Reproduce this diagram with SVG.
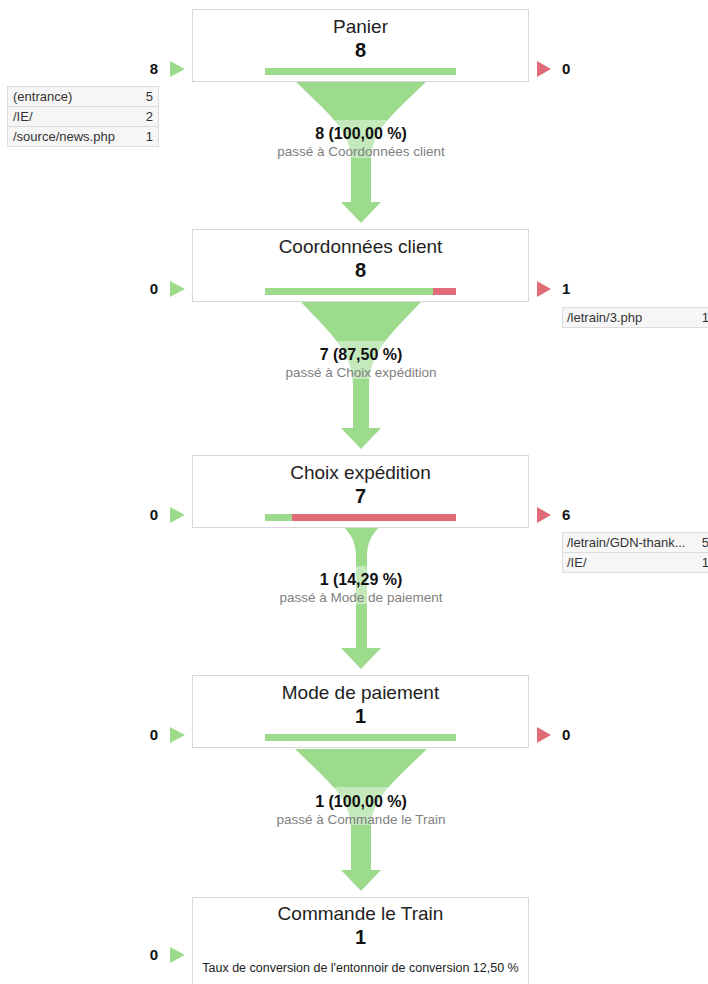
<svg xmlns="http://www.w3.org/2000/svg" width="708" height="984" viewBox="0 0 708 984">
<style>
  text { font-family: "Liberation Sans", Arial, sans-serif; }
  .box { fill: #ffffff; stroke: #d8d8d8; stroke-width: 1; }
  .title { font-size: 19px; fill: #222222; text-anchor: middle; }
  .num { font-size: 20px; font-weight: bold; fill: #111111; text-anchor: middle; }
  .bar-g { fill: #9ddb8c; }
  .bar-r { fill: #e06c7a; }
  .tri-g { fill: #9ddb8c; }
  .tri-r { fill: #e06c7a; }
  .cnt { font-size: 15px; font-weight: bold; fill: #111111; }
  .cnt-l { text-anchor: end; }
  .tbl { fill: #f6f6f6; stroke: #dcdcdc; stroke-width: 1; }
  .tline { stroke: #dcdcdc; stroke-width: 1; }
  .tt { font-size: 13px; fill: #333333; }
  .tn { font-size: 13px; fill: #333333; text-anchor: end; }
  .funnel { fill: #9ddb8c; }
  .lblbg { fill: #ffffff; fill-opacity: 0.4; }
  .lbl { font-size: 16px; font-weight: bold; fill: #111111; text-anchor: middle; }
  .sub { font-size: 13.5px; fill: #808080; text-anchor: middle; }
  .conv { font-size: 12.5px; fill: #222222; text-anchor: middle; }
</style>

<g id="connectors">
  <g id="funnel-1">
    <path class="funnel" d="M295,81 L427,81 C391,116 371,131 371,161 L371,202 L381,202 L361,223 L341,202 L351,202 L351,161 C351,131 331,116 295,81 Z"/>
    <rect class="lblbg" x="275" y="120" width="172" height="38"/>
    <text class="lbl" x="361" y="139">8 (100,00 %)</text>
    <text class="sub" x="361" y="156">passé à Coordonnées client</text>
  </g>
  <g id="funnel-2">
    <path class="funnel" d="M301,302 L421,302 C390,335 369,352 369,387 L369,428 L381,428 L361,449 L341,428 L353,428 L353,387 C353,352 332,335 301,302 Z"/>
    <rect class="lblbg" x="284" y="341" width="154" height="38"/>
    <text class="lbl" x="361" y="360">7 (87,50 %)</text>
    <text class="sub" x="361" y="377">passé à Choix expédition</text>
  </g>
  <g id="funnel-3">
    <path class="funnel" d="M344,527 L379,527 C372,535 367,542 367,557 L367,648 L381,648 L361,669 L341,648 L356,648 L356,557 C356,542 351,535 344,527 Z"/>
    <rect class="lblbg" x="280" y="566" width="162" height="38"/>
    <text class="lbl" x="361" y="585">1 (14,29 %)</text>
    <text class="sub" x="361" y="602">passé à Mode de paiement</text>
  </g>
  <g id="funnel-4">
    <path class="funnel" d="M295,749 L427,749 C391,784 371,799 371,829 L371,870 L381,870 L361,891 L341,870 L351,870 L351,829 C351,799 331,784 295,749 Z"/>
    <rect class="lblbg" x="277" y="787" width="168" height="38"/>
    <text class="lbl" x="361" y="807">1 (100,00 %)</text>
    <text class="sub" x="361" y="824">passé à Commande le Train</text>
  </g>
</g>

<g id="node-panier">
  <rect class="box" x="192.5" y="9.5" width="336" height="72"/>
  <text class="title" x="360.5" y="33">Panier</text>
  <text class="num" x="360.5" y="57">8</text>
  <rect class="bar-g" x="265" y="68" width="191" height="7"/>
  <polygon class="tri-g" points="170,61 185,69 170,77"/>
  <text class="cnt cnt-l" x="158" y="74">8</text>
  <polygon class="tri-r" points="537,61 551,69 537,77"/>
  <text class="cnt" x="562" y="74">0</text>
  <rect class="tbl" x="7.5" y="86.5" width="151" height="60"/>
  <line class="tline" x1="7.5" y1="106.5" x2="158.5" y2="106.5"/>
  <line class="tline" x1="7.5" y1="126.5" x2="158.5" y2="126.5"/>
  <text class="tt" x="13" y="101">(entrance)</text>
  <text class="tn" x="153" y="101">5</text>
  <text class="tt" x="13" y="121">/IE/</text>
  <text class="tn" x="153" y="121">2</text>
  <text class="tt" x="13" y="141">/source/news.php</text>
  <text class="tn" x="153" y="141">1</text>
</g>

<g id="node-coordonnees">
  <rect class="box" x="192.5" y="229.5" width="336" height="72"/>
  <text class="title" x="360.5" y="253">Coordonnées client</text>
  <text class="num" x="360.5" y="277">8</text>
  <rect class="bar-g" x="265" y="288" width="168" height="7"/>
  <rect class="bar-r" x="433" y="288" width="23" height="7"/>
  <polygon class="tri-g" points="170,281 185,289 170,297"/>
  <text class="cnt cnt-l" x="158" y="294">0</text>
  <polygon class="tri-r" points="537,281 551,289 537,297"/>
  <text class="cnt" x="562" y="294">1</text>
  <rect class="tbl" x="562.5" y="307.5" width="150" height="20"/>
  <text class="tt" x="567" y="322">/letrain/3.php</text>
  <text class="tn" x="709" y="322">1</text>
</g>

<g id="node-choix">
  <rect class="box" x="192.5" y="455.5" width="336" height="72"/>
  <text class="title" x="360.5" y="479">Choix expédition</text>
  <text class="num" x="360.5" y="503">7</text>
  <rect class="bar-g" x="265" y="514" width="27" height="7"/>
  <rect class="bar-r" x="292" y="514" width="164" height="7"/>
  <polygon class="tri-g" points="170,507 185,515 170,523"/>
  <text class="cnt cnt-l" x="158" y="520">0</text>
  <polygon class="tri-r" points="537,507 551,515 537,523"/>
  <text class="cnt" x="562" y="520">6</text>
  <rect class="tbl" x="562.5" y="532.5" width="150" height="40"/>
  <line class="tline" x1="562.5" y1="552.5" x2="708" y2="552.5"/>
  <text class="tt" x="567" y="547">/letrain/GDN-thank...</text>
  <text class="tn" x="709" y="547">5</text>
  <text class="tt" x="567" y="567">/IE/</text>
  <text class="tn" x="709" y="567">1</text>
</g>

<g id="node-mode">
  <rect class="box" x="192.5" y="675.5" width="336" height="72"/>
  <text class="title" x="360.5" y="699">Mode de paiement</text>
  <text class="num" x="360.5" y="723">1</text>
  <rect class="bar-g" x="265" y="734" width="191" height="7"/>
  <polygon class="tri-g" points="170,727 185,735 170,743"/>
  <text class="cnt cnt-l" x="158" y="740">0</text>
  <polygon class="tri-r" points="537,727 551,735 537,743"/>
  <text class="cnt" x="562" y="740">0</text>
</g>

<g id="node-commande">
  <rect class="box" x="192.5" y="897.5" width="336" height="100"/>
  <text class="title" x="360.5" y="920">Commande le Train</text>
  <text class="num" x="360.5" y="944">1</text>
  <polygon class="tri-g" points="170,947 185,955 170,963"/>
  <text class="cnt cnt-l" x="158" y="960">0</text>
  <text class="conv" x="360.5" y="972">Taux de conversion de l'entonnoir de conversion 12,50 %</text>
</g>
</svg>
